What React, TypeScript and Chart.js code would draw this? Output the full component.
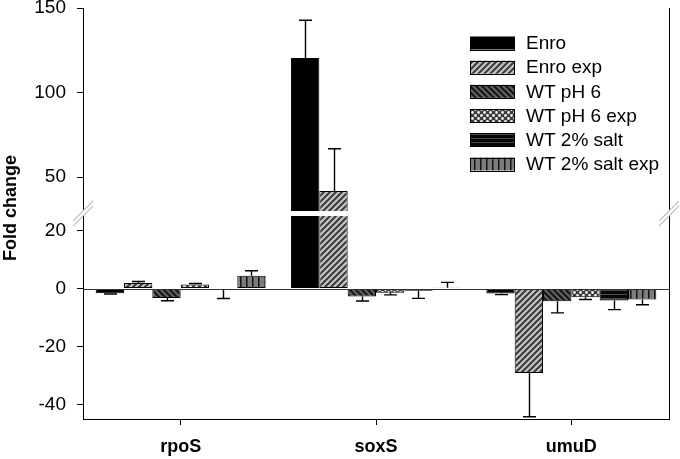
import React, { useEffect, useRef } from 'react';
import { Chart, registerables, LinearScale } from 'chart.js';

// ---- data ----
const categories = ['rpoS', 'soxS', 'umuD'];
const seriesNames = ['Enro', 'Enro exp', 'WT pH 6', 'WT pH 6 exp', 'WT 2% salt', 'WT 2% salt exp'];

const enro = [-1.6, 120.5, -1.7];
const enroErr = [0.3, 22.3, 0.4];
const enroExp = [1.9, 41.8, -29.1];
const enroExpErr = [0.5, 25.0, 15.1];
const wtPh6 = [-3.3, -2.8, -4.4];
const wtPh6Err = [0.9, 1.5, 4.0];
const wtPh6Exp = [1.4, -1.5, -3.0];
const wtPh6ExpErr = [0.3, 0.7, 0.8];
const wtSalt = [-0.45, -0.8, -4.1];
const wtSaltErr = [3.0, 2.6, 3.2];
const wtSaltExp = [4.4, 0.3, -3.8];
const wtSaltExpErr = [1.7, 1.8, 1.8];

const yTicks = [-40, -20, 0, 20, 50, 100, 150];
const lowerRange = [-45, 25];
const upperRange = [30, 150];

// fractions of the axis height given to lower part, gap, upper part
const LOW_FRAC = 203 / 411;
const GAP_FRAC = 5 / 411;

class BrokenScale extends LinearScale {
  static id = 'broken';
  getPixelForValue(value: number) {
    const [l0, l1] = lowerRange;
    const [u0, u1] = upperRange;
    let d: number;
    if (value <= l1) d = ((value - l0) / (l1 - l0)) * LOW_FRAC;
    else if (value < u0) d = LOW_FRAC + ((value - l1) / (u0 - l1)) * GAP_FRAC;
    else d = LOW_FRAC + GAP_FRAC + ((value - u0) / (u1 - u0)) * (1 - LOW_FRAC - GAP_FRAC);
    return (this as any).getPixelForDecimal(d);
  }
  getValueForPixel(pixel: number) {
    const [l0, l1] = lowerRange;
    const [u0, u1] = upperRange;
    const d = (this as any).getDecimalForPixel(pixel);
    if (d <= LOW_FRAC) return l0 + (d / LOW_FRAC) * (l1 - l0);
    if (d < LOW_FRAC + GAP_FRAC) return l1 + ((d - LOW_FRAC) / GAP_FRAC) * (u0 - l1);
    return u0 + ((d - LOW_FRAC - GAP_FRAC) / (1 - LOW_FRAC - GAP_FRAC)) * (u1 - u0);
  }
}

Chart.register(...registerables, BrokenScale as any);

const FONT = 'Liberation Sans, Arial, sans-serif';

function tile(w: number, h: number, draw: (g: CanvasRenderingContext2D) => void, ctx: CanvasRenderingContext2D) {
  const c = document.createElement('canvas');
  c.width = w;
  c.height = h;
  const g = c.getContext('2d')!;
  draw(g);
  return ctx.createPattern(c, 'repeat')!;
}

function makeFills(ctx: CanvasRenderingContext2D) {
  const solid = '#000000';
  const fwd = tile(6, 6, (g) => {
    g.fillStyle = '#c4c4c4';
    g.fillRect(0, 0, 6, 6);
    g.strokeStyle = '#3a3a3a';
    g.lineWidth = 2;
    g.beginPath();
    g.moveTo(-1, 7); g.lineTo(7, -1);
    g.moveTo(-1, 1); g.lineTo(1, -1);
    g.moveTo(5, 7); g.lineTo(7, 5);
    g.stroke();
  }, ctx);
  const back = tile(6, 6, (g) => {
    g.fillStyle = '#6a6a6a';
    g.fillRect(0, 0, 6, 6);
    g.strokeStyle = '#1a1a1a';
    g.lineWidth = 2.4;
    g.beginPath();
    g.moveTo(-1, -1); g.lineTo(7, 7);
    g.moveTo(5, -1); g.lineTo(7, 1);
    g.moveTo(-1, 5); g.lineTo(1, 7);
    g.stroke();
  }, ctx);
  const dots = tile(6, 6, (g) => {
    g.fillStyle = '#3c3c3c';
    g.fillRect(0, 0, 6, 6);
    g.fillStyle = '#f4f4f4';
    g.beginPath();
    g.arc(1.5, 1.5, 1.4, 0, Math.PI * 2);
    g.arc(4.5, 4.5, 1.4, 0, Math.PI * 2);
    g.fill();
  }, ctx);
  const horiz = tile(4, 4, (g) => {
    g.fillStyle = '#080808';
    g.fillRect(0, 0, 4, 4);
    g.fillStyle = '#4a4a4a';
    g.fillRect(0, 2, 4, 1);
  }, ctx);
  const vert = tile(6, 4, (g) => {
    g.fillStyle = '#7c7c7c';
    g.fillRect(0, 0, 6, 4);
    g.fillStyle = '#141414';
    g.fillRect(0, 0, 1.5, 4);
  }, ctx);
  return [solid, fwd, back, dots, horiz, vert];
}

export default function App() {
  const ref = useRef<HTMLCanvasElement>(null);

  useEffect(() => {
    const canvas = ref.current!;
    const ctx = canvas.getContext('2d')!;
    const fills = makeFills(ctx);
    const values = [enro, enroExp, wtPh6, wtPh6Exp, wtSalt, wtSaltExp];
    const errors = [enroErr, enroExpErr, wtPh6Err, wtPh6ExpErr, wtSaltErr, wtSaltExpErr];

    const plugin = {
      id: 'decor',
      beforeDatasetsDraw(chart: any) {
        const { ctx: c, chartArea: a } = chart;
        c.save();
        c.strokeStyle = '#000';
        c.lineWidth = 1;
        c.beginPath();
        c.moveTo(a.right + 0.5, a.top);
        c.lineTo(a.right + 0.5, a.bottom);
        c.stroke();
        c.restore();
      },
      afterDatasetsDraw(chart: any) {
        const { ctx: c, chartArea: a } = chart;
        const ys = chart.scales.y;
        const y0 = ys.getPixelForValue(0);
        c.save();
        // zero line
        c.strokeStyle = '#333';
        c.lineWidth = 1;
        c.beginPath();
        c.moveTo(a.left, Math.round(y0) + 0.5);
        c.lineTo(a.right, Math.round(y0) + 0.5);
        c.stroke();
        // axis break gap
        const yLow = ys.getPixelForValue(lowerRange[1]);
        const yHigh = ys.getPixelForValue(upperRange[0]);
        c.fillStyle = '#fff';
        c.fillRect(a.left - 3, yHigh, a.right - a.left + 7, yLow - yHigh);
        c.strokeStyle = '#c4c4c4';
        c.lineWidth = 1.2;
        [a.left, a.right].forEach((x) => {
          [yHigh, yLow].forEach((yy) => {
            c.beginPath();
            c.moveTo(x - 10, yy + 10);
            c.lineTo(x + 10, yy - 10);
            c.stroke();
          });
        });
        // error bars
        c.strokeStyle = '#000';
        c.lineWidth = 1.4;
        chart.data.datasets.forEach((ds: any, i: number) => {
          const meta = chart.getDatasetMeta(i);
          meta.data.forEach((el: any, j: number) => {
            const v = values[i][j];
            const e = errors[i][j];
            const end = v >= 0 ? v + e : v - e;
            const yEnd = ys.getPixelForValue(end);
            const x = Math.round(el.x) + 0.5;
            c.beginPath();
            c.moveTo(x, el.y);
            c.lineTo(x, yEnd);
            c.moveTo(x - 6.5, yEnd);
            c.lineTo(x + 6.5, yEnd);
            c.stroke();
          });
        });
        c.restore();
      },
      afterDraw(chart: any) {
        const c = chart.ctx;
        c.save();
        // y title
        c.translate(11, 208);
        c.rotate(-Math.PI / 2);
        c.font = `bold 18px ${FONT}`;
        c.fillStyle = '#000';
        c.textAlign = 'center';
        c.textBaseline = 'middle';
        c.fillText('Fold change', 0, 0);
        c.restore();
        // legend
        c.save();
        seriesNames.forEach((name, i) => {
          const cy = 43 + i * 24.2;
          c.fillStyle = fills[i];
          c.fillRect(470, cy - 6.5, 45, 13);
          c.strokeStyle = '#000';
          c.lineWidth = 1;
          c.strokeRect(470.5, Math.round(cy - 6.5) + 0.5, 44, 13);
          c.fillStyle = '#000';
          c.font = `19px ${FONT}`;
          c.textAlign = 'left';
          c.textBaseline = 'middle';
          c.fillText(name, 526, cy + 1);
        });
        c.restore();
      },
    };

    const chart = new Chart(canvas, {
      type: 'bar',
      data: {
        labels: categories,
        datasets: seriesNames.map((name, i) => ({
          label: name,
          data: values[i],
          backgroundColor: fills[i] as any,
          borderColor: '#000',
          borderWidth: 1,
          borderSkipped: false,
          categoryPercentage: 0.87,
          barPercentage: 1,
        })),
      },
      options: {
        animation: false,
        responsive: false,
        devicePixelRatio: 1,
        layout: { padding: { left: 0, right: 11, top: 8, bottom: 0 } },
        plugins: { legend: { display: false }, tooltip: { enabled: false } },
        scales: {
          x: {
            grid: { display: true, offset: false, drawOnChartArea: false, drawTicks: true, tickLength: 6, color: '#000' },
            border: { display: true, color: '#000', width: 1 },
            ticks: { font: { family: FONT, size: 18, weight: 'bold' }, color: '#000', padding: 11, maxRotation: 0 },
            afterFit: (s: any) => {
              s.height = 40;
              s.paddingLeft = 0;
              s.paddingRight = 0;
            },
          },
          y: {
            type: 'broken' as any,
            min: -45,
            max: 150,
            grid: { display: true, drawOnChartArea: false, drawTicks: true, tickLength: 6, color: '#000' },
            border: { display: true, color: '#000', width: 1 },
            ticks: { font: { family: FONT, size: 19 }, color: '#000', padding: 11 },
            afterBuildTicks: (s: any) => {
              s.ticks = yTicks.map((v) => ({ value: v }));
            },
            afterFit: (s: any) => {
              s.width = 83;
              s.paddingTop = 0;
              s.paddingBottom = 0;
            },
          } as any,
        },
      },
      plugins: [plugin],
    });
    return () => chart.destroy();
  }, []);

  return (
    <div style={{ position: 'absolute', left: 0, top: 0, width: 680, height: 459, background: '#fff' }}>
      <canvas ref={ref} width={680} height={459} style={{ display: 'block' }} />
    </div>
  );
}
